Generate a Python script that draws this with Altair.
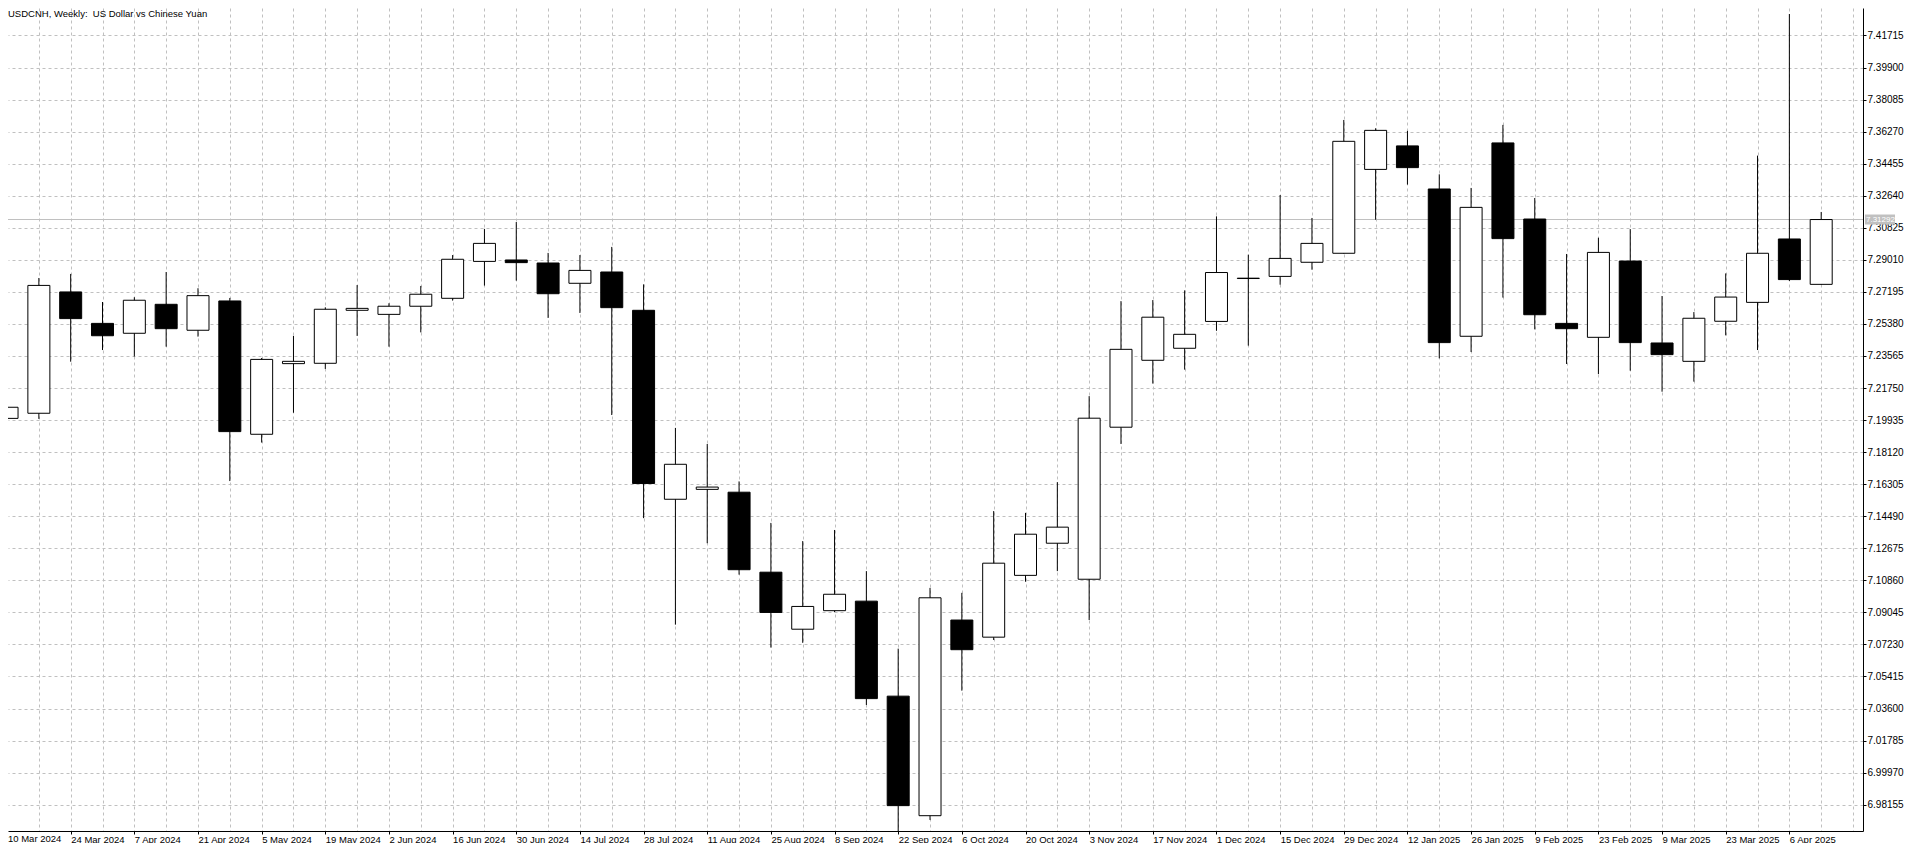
import json
import altair as alt
import pandas as pd

# ---- data ----
dates = pd.date_range("2024-03-10", periods=58, freq="7D")
week_labels = [f"{d.day} {d.strftime('%b %Y')}" for d in dates]

opens = [7.2003, 7.2032, 7.2719, 7.2541, 7.2485, 7.2649, 7.2502, 7.2668, 7.1913, 7.2313,
         7.2315, 7.2615, 7.2592, 7.2638, 7.2683, 7.2892, 7.2900, 7.2883, 7.2768, 7.2832,
         7.2615, 7.1545, 7.1601, 7.1585, 7.1132, 7.0809, 7.0914, 7.0968, 7.0430, 6.9753,
         7.0861, 7.0764, 7.1114, 7.1296, 7.1092, 7.1953, 7.2332, 7.2400, 7.2552, 7.2795,
         7.2807, 7.2887, 7.2938, 7.3413, 7.3546, 7.3302, 7.2468, 7.3563, 7.3132, 7.2541,
         7.2462, 7.2894, 7.2430, 7.2326, 7.2553, 7.2660, 7.3019, 7.2762]
highs = [7.2072, 7.2798, 7.2821, 7.2662, 7.2689, 7.2832, 7.2740, 7.2685, 7.2345, 7.2470,
         7.2632, 7.2758, 7.2655, 7.2753, 7.2928, 7.3076, 7.3115, 7.2940, 7.2928, 7.2974,
         7.2762, 7.1949, 7.1858, 7.1646, 7.1411, 7.1308, 7.1371, 7.1138, 7.0699, 7.1043,
         7.1015, 7.1478, 7.1468, 7.1642, 7.2129, 7.2667, 7.2673, 7.2728, 7.3147, 7.2930,
         7.3268, 7.3138, 7.3693, 7.3646, 7.3631, 7.3385, 7.3308, 7.3665, 7.3251, 7.2934,
         7.3026, 7.3075, 7.2696, 7.2605, 7.2824, 7.3491, 7.4293, 7.3172]
lows = [7.1995, 7.2000, 7.2324, 7.2390, 7.2353, 7.2409, 7.2466, 7.1648, 7.1866, 7.2035,
        7.2283, 7.2470, 7.2409, 7.2490, 7.2670, 7.2755, 7.2783, 7.2572, 7.2600, 7.2022,
        7.1438, 7.0835, 7.1296, 7.1118, 7.0705, 7.0732, 7.0906, 7.0380, 6.9666, 6.9729,
        7.0461, 7.0748, 7.1078, 7.1138, 7.0861, 7.1858, 7.2200, 7.2279, 7.2499, 7.2415,
        7.2760, 7.2845, 7.2936, 7.3128, 7.3327, 7.2343, 7.2379, 7.2687, 7.2507, 7.2311,
        7.2254, 7.2273, 7.2154, 7.2211, 7.2473, 7.2390, 7.2781, 7.2760]
closes = [7.2066, 7.2756, 7.2568, 7.2471, 7.2672, 7.2511, 7.2698, 7.1928, 7.2337, 7.2326,
          7.2621, 7.2626, 7.2638, 7.2706, 7.2904, 7.2994, 7.2885, 7.2709, 7.2841, 7.2630,
          7.1634, 7.1743, 7.1614, 7.1146, 7.0904, 7.0938, 7.1007, 7.0416, 6.9810, 7.0987,
          7.0693, 7.1183, 7.1347, 7.1387, 7.2004, 7.2394, 7.2576, 7.2479, 7.2829, 7.2797,
          7.2909, 7.2994, 7.3572, 7.3634, 7.3423, 7.2432, 7.3198, 7.3021, 7.2590, 7.2511,
          7.2943, 7.2432, 7.2364, 7.2570, 7.2690, 7.2938, 7.2789, 7.3129]

y_ticks = [6.98155, 6.99970, 7.01785, 7.03600, 7.05415, 7.07230, 7.09045, 7.10860,
           7.12675, 7.14490, 7.16305, 7.18120, 7.19935, 7.21750, 7.23565, 7.25380,
           7.27195, 7.29010, 7.30825, 7.32640, 7.34455, 7.36270, 7.38085, 7.39900,
           7.41715, 7.43530]

current_price = 7.31292
title_text = "USDCNH, Weekly:\u00a0 US Dollar vs Chinese Yuan"

df = pd.DataFrame({"i": list(range(len(opens))), "week": week_labels,
                   "open": opens, "high": highs, "low": lows, "close": closes})

FONT = "Liberation Sans"
GRID = "#c0c0c0"
W, H = 1855, 823

xscale = alt.Scale(domain=[0.1875, 58.15625], nice=False, zero=False)
yscale = alt.Scale(domain=[6.96663, 7.4327], nice=False, zero=False)

label_arr = json.dumps(week_labels)
xaxis = alt.Axis(
    values=list(range(59)), grid=True, gridColor=GRID, gridDash=[3, 3], gridWidth=1,
    labelExpr=f"(datum.value % 2 == 0 && datum.value <= 56) ? {label_arr}[datum.value] : ''",
    labelAlign="left", labelBaseline="top", labelPadding=0,
    labelFont=FONT, labelFontSize=9.5, labelColor="black",
    labelOverlap=False, labelFlush=False,
    tickSize=3, tickColor="black", tickWidth=1,
    tickOpacity={"condition": {"test": "datum.value % 2 == 0 && datum.value <= 56", "value": 1}, "value": 0},
    domainColor="black", domainWidth=1, title="",
)
yaxis = alt.Axis(
    orient="right", values=y_ticks, format=".5f",
    grid=True, gridColor=GRID, gridDash=[3, 3], gridWidth=1,
    tickSize=3, tickColor="black", tickWidth=1, labelPadding=1,
    labelFont=FONT, labelFontSize=10, labelColor="black",
    labelOverlap=False, labelFlush=False, labelBaseline="middle",
    domainColor="black", domainWidth=1, title="",
)

X = alt.X("i:Q", scale=xscale, axis=xaxis)

base = alt.Chart(df)

wicks = base.mark_rule(color="black", strokeWidth=1, clip=True).encode(
    x=X, y=alt.Y("low:Q", scale=yscale, axis=yaxis), y2="high:Q"
)
bodies = base.mark_bar(size=22, stroke="black", strokeWidth=1, clip=True).encode(
    x=X,
    y=alt.Y("open:Q", scale=yscale, axis=yaxis),
    y2="close:Q",
    fill=alt.condition("datum.close >= datum.open", alt.value("white"), alt.value("black")),
)

price_df = pd.DataFrame({"price": [current_price], "label": [f"{current_price:.5f}"]})
pbase = alt.Chart(price_df)
price_line = pbase.mark_rule(color=GRID, strokeWidth=1).encode(
    y=alt.Y("price:Q", scale=yscale, axis=yaxis), x=alt.value(0), x2=alt.value(W)
)
price_box = pbase.mark_rule(color=GRID, strokeWidth=10, strokeCap="butt", clip=False).encode(
    y=alt.Y("price:Q", scale=yscale, axis=yaxis), x=alt.value(W + 2), x2=alt.value(W + 32)
)
price_text = pbase.mark_text(color="white", font=FONT, fontSize=8, align="left",
                             baseline="middle", clip=False).encode(
    y=alt.Y("price:Q", scale=yscale, axis=yaxis), x=alt.value(W + 3), text="label:N"
)

# first week's date label (its tick falls just left of the visible plot area)
first_df = pd.DataFrame({"lbl": [week_labels[0]]})
first_label = alt.Chart(first_df).mark_text(font=FONT, fontSize=9.5, color="black", align="left",
                                            baseline="top", clip=False).encode(
    x=alt.value(0), y=alt.value(H + 3), text="lbl:N"
)

title_df = pd.DataFrame({"t": [title_text]})
title = alt.Chart(title_df).mark_text(font=FONT, fontSize=9.5, color="black", align="left",
                                      baseline="top").encode(
    x=alt.value(0), y=alt.value(1), text="t:N"
)

chart = alt.layer(price_line, wicks, bodies, price_box, price_text, first_label, title).properties(
    width=W, height=H,
    autosize=alt.AutoSizeParams(type="none"),
    padding={"left": 0, "top": 0, "right": 45, "bottom": 12},
    background="white",
).configure_view(strokeWidth=0)

chart.save("out.html", embed_options={"renderer": "svg", "actions": False})
